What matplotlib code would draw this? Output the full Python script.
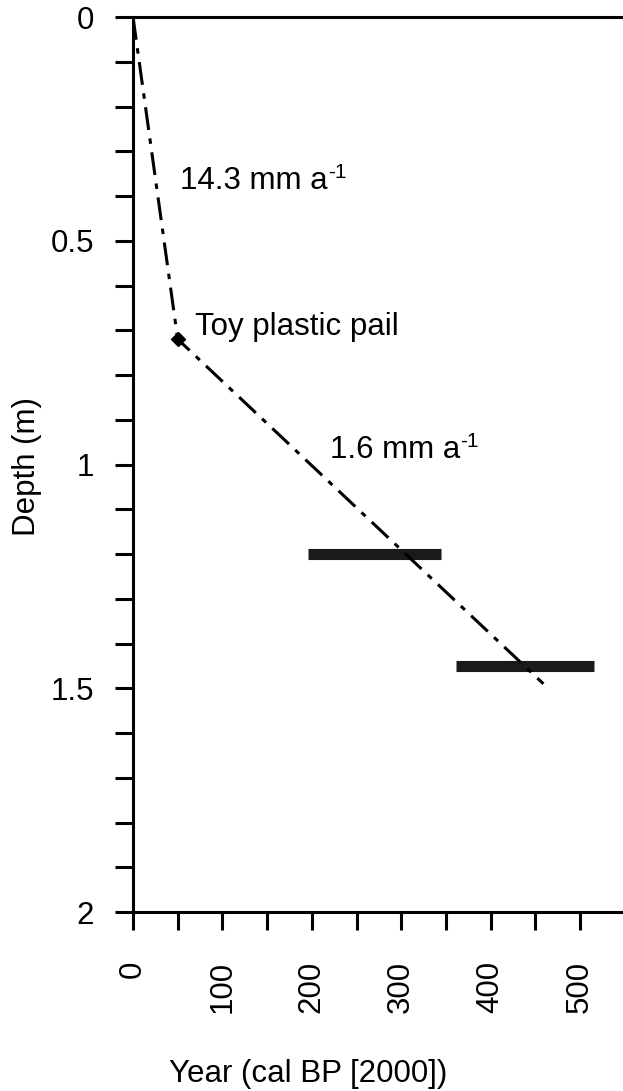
import numpy as np
import matplotlib
matplotlib.use("Agg")
import matplotlib.pyplot as plt

plt.rcParams['font.family'] = ['Liberation Sans', 'DejaVu Sans']

# age-depth model (years cal BP vs depth in m)
model_year = [0, 50, 459]
model_depth = [0.0, 0.72, 1.49]

# toy plastic pail marker
pail_year = 50
pail_depth = 0.72

# calibrated 14C ranges: depth and year span
bar_depth = [1.20, 1.45]
bar_start = [196, 361]
bar_end = [345, 516]

rates = ["14.3 mm a", "1.6 mm a"]
rate_pos = [(53, 0.366), (220, 0.968)]

FS = 22.5

fig = plt.figure(figsize=(6.23, 10.91), dpi=100)
ax = fig.add_axes([0.2135, 0.164, 0.7865, 0.8204])

ax.plot(model_year, model_depth, color='black', lw=2.2,
        linestyle=(0, (7.5, 2.8, 1.8, 2.8)), zorder=2)
ax.plot([pail_year], [pail_depth], marker='D', ms=7, color='black',
        linestyle='none', zorder=3)
ax.hlines(bar_depth, bar_start, bar_end, color='#1a1a1a', lw=8, zorder=1)

for t, (x, y) in zip(rates, rate_pos):
    txt = ax.text(x, y, t, fontsize=FS, va='center', ha='left')
    # exponent written as a small raised "-1"
    ax.annotate("-1", xy=(1.0, 0.78), xycoords=txt, fontsize=15,
                ha='left', va='center')
ax.text(69, 0.693, "Toy plastic pail", fontsize=FS, va='center', ha='left')

ax.set_xlim(0, 548)
ax.set_ylim(2, 0)

ax.set_xticks(np.arange(0, 501, 50))
ax.set_xticklabels([str(v) if v % 100 == 0 else '' for v in range(0, 501, 50)],
                   rotation=90, va='top')
ax.set_yticks(np.arange(0, 2.01, 0.1))
ax.set_yticklabels(['0' if abs(v) < 1e-9 else ('%g' % v if abs(v * 2 - round(v * 2)) < 1e-9 else '')
                    for v in np.arange(0, 2.01, 0.1)])

ax.tick_params(axis='both', direction='out', length=13, width=2.2,
               labelsize=FS, colors='black')
ax.tick_params(axis='x', pad=22)
ax.tick_params(axis='y', pad=15)

for s in ['left', 'top', 'bottom']:
    ax.spines[s].set_linewidth(2.2)
ax.spines['right'].set_visible(False)

fig.text(0.043, 0.572, "Depth (m)", rotation=90, fontsize=FS,
         ha='center', va='center')
fig.text(0.495, 0.016, "Year (cal BP [2000])", fontsize=FS,
         ha='center', va='center')

fig.savefig("out.png", dpi=100)
